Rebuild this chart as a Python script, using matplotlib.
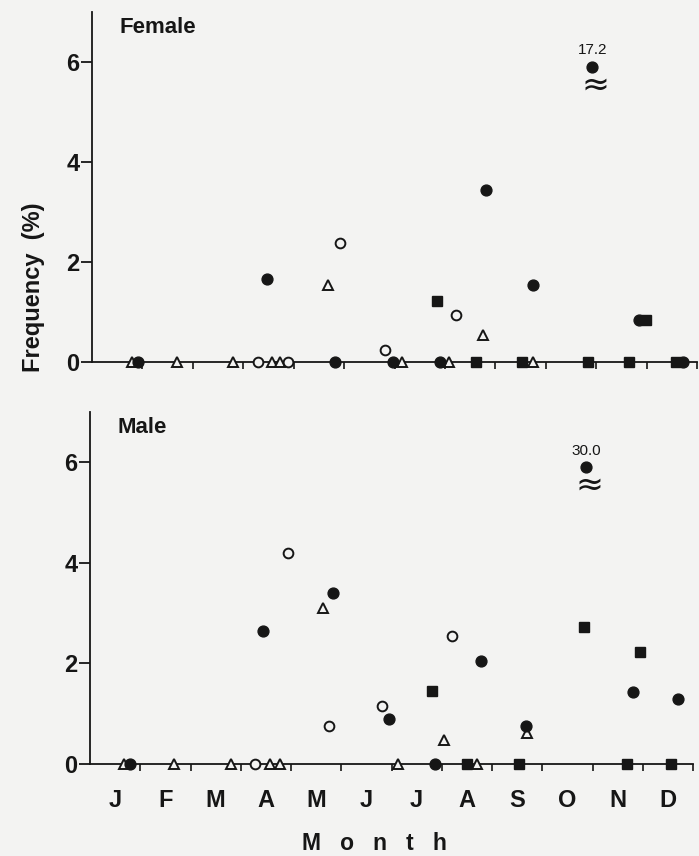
import numpy as np
import matplotlib
matplotlib.use("Agg")
import matplotlib.pyplot as plt

plt.rcParams["font.family"] = ["Liberation Sans", "DejaVu Sans"]

MONTHS = ["J", "F", "M", "A", "M", "J", "J", "A", "S", "O", "N", "D"]

# positions are in months from 1 January (0 = start of Jan), values in %
F_FILLED_X = [0.91, 3.48, 4.82, 5.97, 6.90, 7.82, 8.74, 9.92, 10.85, 11.73]
F_FILLED_Y = [0, 1.67, 0, 0, 0, 3.43, 1.54, 17.2, 0.83, 0]
F_OPEN_X = [3.30, 3.89, 4.92, 5.81, 7.22]
F_OPEN_Y = [0, 0, 2.37, 0.24, 0.93]
F_TRI_X = [0.79, 1.69, 2.79, 3.58, 3.73, 4.68, 6.14, 7.08, 7.76, 8.75]
F_TRI_Y = [0, 0, 0, 0, 0, 1.54, 0, 0, 0.54, 0]
F_SQ_X = [6.85, 7.61, 8.52, 9.84, 10.66, 10.98, 11.59]
F_SQ_Y = [1.21, 0, 0, 0, 0, 0.83, 0]

M_FILLED_X = [0.80, 3.44, 4.83, 5.96, 6.86, 7.78, 8.68, 9.88, 10.81, 11.70]
M_FILLED_Y = [0, 2.65, 3.41, 0.89, 0, 2.05, 0.76, 30.0, 1.43, 1.29]
M_OPEN_X = [3.28, 3.95, 4.76, 5.81, 7.21]
M_OPEN_Y = [0, 4.19, 0.76, 1.16, 2.54]
M_TRI_X = [0.68, 1.67, 2.81, 3.58, 3.79, 4.64, 6.12, 7.04, 7.71, 8.69]
M_TRI_Y = [0, 0, 0, 0, 0, 3.10, 0, 0.48, 0, 0.61]
M_SQ_X = [6.80, 7.51, 8.54, 9.84, 10.68, 10.95, 11.57]
M_SQ_Y = [1.46, 0, 0, 2.72, 0, 2.23, 0]

YMAX = 7.0
BREAK_AT = 5.9   # off-scale values are drawn here with a break sign
INK = "#161616"
BG = "#f3f3f2"


def capped(y):
    y = np.asarray(y, dtype=float)
    return np.where(y > YMAX, BREAK_AT, y)


def panel(ax, title, filled, opn, tri, sq):
    ax.set_facecolor(BG)
    for s in ("top", "right"):
        ax.spines[s].set_visible(False)
    for s in ("left", "bottom"):
        ax.spines[s].set_linewidth(1.3)
        ax.spines[s].set_color(INK)
    ax.set_xlim(0, 12)
    ax.set_ylim(0, YMAX)
    ax.set_yticks([0, 2, 4, 6])
    ax.set_xticks(np.arange(1, 13))
    ax.set_xticklabels([])
    ax.tick_params(axis="y", direction="out", length=8, width=1.3, pad=1,
                   labelsize=17, colors=INK)
    for lab in ax.get_yticklabels():
        lab.set_fontweight("bold")
    ax.tick_params(axis="x", which="major", direction="out", length=5, width=1.2, colors=INK)

    kw = dict(ls="none", clip_on=False, zorder=5)
    ax.plot(tri[0], capped(tri[1]), marker="^", ms=7, mfc=BG, mec=INK, mew=1.4, **kw)
    ax.plot(opn[0], capped(opn[1]), marker="o", ms=7, mfc=BG, mec=INK, mew=1.4, **kw)
    ax.plot(sq[0], capped(sq[1]), marker="s", ms=7, mfc=INK, mec=INK, **kw)
    ax.plot(filled[0], capped(filled[1]), marker="o", ms=7.8, mfc=INK, mec=INK, **kw)

    for x, y in zip(filled[0], filled[1]):
        if y > YMAX:
            ax.text(x, BREAK_AT + 0.33, f"{y:.1f}", ha="center", va="center",
                    fontsize=11, color=INK)
            ax.text(x + 0.06, BREAK_AT - 0.36, "≈", ha="center", va="center",
                    fontsize=24, color=INK, family="DejaVu Sans")

    ax.text(0.045, 0.955, title, transform=ax.transAxes, fontsize=16,
            fontweight="bold", color=INK, ha="left", va="center")


fig = plt.figure(figsize=(6.99, 8.56), dpi=100, facecolor=BG)
ax1 = fig.add_axes([92 / 699, (856 - 362) / 856, 605 / 699, 350 / 856])
ax2 = fig.add_axes([90 / 699, (856 - 764) / 856, 603 / 699, 352 / 856])

panel(ax1, "Female", (F_FILLED_X, F_FILLED_Y), (F_OPEN_X, F_OPEN_Y),
      (F_TRI_X, F_TRI_Y), (F_SQ_X, F_SQ_Y))
panel(ax2, "Male", (M_FILLED_X, M_FILLED_Y), (M_OPEN_X, M_OPEN_Y),
      (M_TRI_X, M_TRI_Y), (M_SQ_X, M_SQ_Y))

ax2.set_xticks(np.arange(0.5, 12, 1), minor=True)
ax2.set_xticklabels(MONTHS, minor=True, fontsize=17, fontweight="bold", color=INK)
ax2.tick_params(axis="x", which="minor", length=0, pad=18)

fig.text(374 / 699, (856 - 844) / 856, "M   o   n   t   h", ha="center", va="center",
         fontsize=16.5, fontweight="bold", color=INK)
fig.text(34 / 699, (856 - 287) / 856, "Frequency  (%)", rotation=90, ha="center",
         va="center", fontsize=17, fontweight="bold", color=INK)

fig.savefig("out.png", dpi=100, facecolor=BG)
